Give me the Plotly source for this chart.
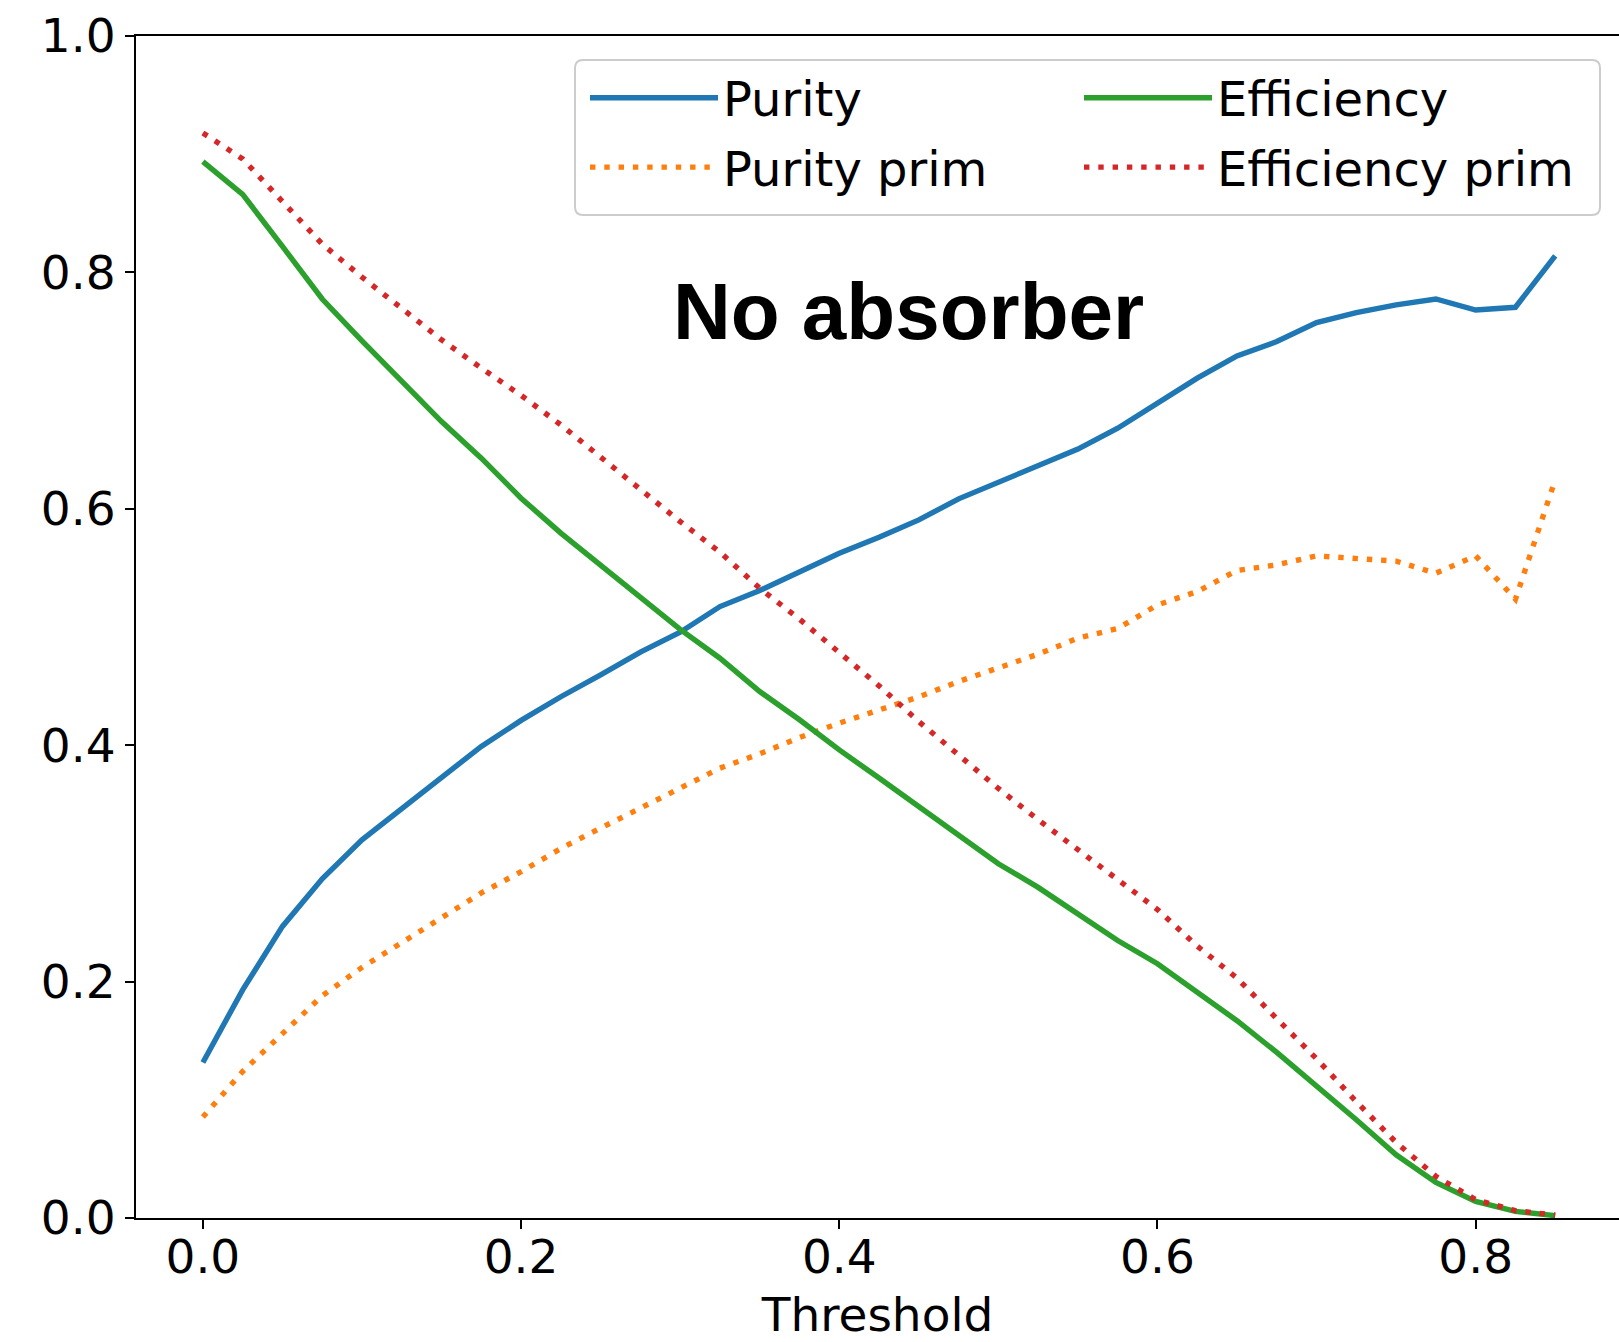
import plotly.graph_objects as go

threshold = [round(i * 0.025, 3) for i in range(35)]

purity = [0.1316, 0.193, 0.2467, 0.287, 0.32, 0.346, 0.372, 0.399, 0.421, 0.441,
          0.4595, 0.4787, 0.4956, 0.5173, 0.5309, 0.5464, 0.5624, 0.576, 0.5906, 0.6084,
          0.6222, 0.6357, 0.6505, 0.6682, 0.6899, 0.7105, 0.7293, 0.7415, 0.7575, 0.766,
          0.7725, 0.7775, 0.7682, 0.7705, 0.8139]
purity_prim = [0.0854, 0.124, 0.156, 0.188, 0.212, 0.233, 0.2537, 0.275, 0.293, 0.3126,
               0.3299, 0.347, 0.3637, 0.3806, 0.3927, 0.4065, 0.4187, 0.4299, 0.4409, 0.4539,
               0.4652, 0.477, 0.4906, 0.4987, 0.5187, 0.53, 0.5478, 0.5526, 0.5602, 0.5576,
               0.5557, 0.5455, 0.5602, 0.5235, 0.6245]
efficiency = [0.8937, 0.866, 0.822, 0.7775, 0.742, 0.708, 0.6738, 0.6428, 0.609, 0.5794,
              0.552, 0.5244, 0.498, 0.4736, 0.4454, 0.4215, 0.396, 0.3722, 0.3481, 0.3242,
              0.2997, 0.2797, 0.2574, 0.2348, 0.2151, 0.1908, 0.1669, 0.1401, 0.1119, 0.0831,
              0.0535, 0.0301, 0.014, 0.0056, 0.002]
efficiency_prim = [0.918, 0.896, 0.86, 0.824, 0.796, 0.77, 0.743, 0.719, 0.696, 0.671,
                   0.644, 0.6157, 0.5892, 0.5633, 0.5328, 0.5066, 0.4787, 0.4502, 0.42, 0.3913,
                   0.3634, 0.3369, 0.3115, 0.2856, 0.261, 0.23, 0.203, 0.1686, 0.1347, 0.0984,
                   0.064, 0.0352, 0.0155, 0.0062, 0.0025]

x_ticks = [0.0, 0.2, 0.4, 0.6, 0.8]
y_ticks = [0.0, 0.2, 0.4, 0.6, 0.8, 1.0]

W, H = 1619, 1342
ML, MR, MT, MB = 136, 0, 36, 124
PW, PH = W - ML - MR, H - MT - MB

LW = 5.4
DOT = "5.4px,8.9px"
FONT = "DejaVu Sans"


def px_to_paper(px, py):
    return (px - ML) / PW, (H - MB - py) / PH


fig = go.Figure()
fig.add_trace(go.Scatter(x=threshold, y=purity, mode="lines", name="Purity",
                         line=dict(color="#1f77b4", width=LW), legend="legend", legendgroup="a"))
fig.add_trace(go.Scatter(x=threshold, y=purity_prim, mode="lines", name="Purity prim",
                         line=dict(color="#ff7f0e", width=LW, dash=DOT), legend="legend", legendgroup="b"))
fig.add_trace(go.Scatter(x=threshold, y=efficiency, mode="lines", name="Efficiency",
                         line=dict(color="#2ca02c", width=LW), legend="legend2", legendgroup="c"))
fig.add_trace(go.Scatter(x=threshold, y=efficiency_prim, mode="lines", name="Efficiency prim",
                         line=dict(color="#d62728", width=LW, dash=DOT), legend="legend2", legendgroup="d"))

# legend frame (rounded box like matplotlib's legend patch)
bx0, by0 = px_to_paper(575, 60)
bx1, by1 = px_to_paper(1600, 215)
rx, ry = 8 / PW, 8 / PH
frame = (f"M{bx0 + rx},{by0} L{bx1 - rx},{by0} Q{bx1},{by0} {bx1},{by0 - ry} "
         f"L{bx1},{by1 + ry} Q{bx1},{by1} {bx1 - rx},{by1} "
         f"L{bx0 + rx},{by1} Q{bx0},{by1} {bx0},{by1 + ry} "
         f"L{bx0},{by0 - ry} Q{bx0},{by0} {bx0 + rx},{by0} Z")
fig.add_shape(type="path", path=frame, xref="paper", yref="paper",
              line=dict(color="#cccccc", width=2), fillcolor="rgba(255,255,255,0.8)", layer="above")

fig.add_annotation(x=0.2942, y=0.767, xref="x", yref="y", text="<b>No absorber</b>",
                   showarrow=False, xanchor="left", yanchor="middle",
                   font=dict(family="Liberation Sans", size=80, color="black"))

lx1, ly = px_to_paper(585, 60)
lx2, _ = px_to_paper(1079, 60)
leg_common = dict(orientation="v", yanchor="top", xanchor="left", y=ly,
                  bgcolor="rgba(0,0,0,0)", borderwidth=0,
                  font=dict(family=FONT, size=48, color="black"),
                  itemwidth=128, tracegroupgap=4, traceorder="grouped")

fig.update_layout(
    width=W, height=H,
    margin=dict(l=ML, r=MR, t=MT, b=MB),
    paper_bgcolor="white", plot_bgcolor="white",
    font=dict(family=FONT, size=47, color="black"),
    showlegend=True,
    legend=dict(x=lx1, **leg_common),
    legend2=dict(x=lx2, **leg_common),
    xaxis=dict(
        range=[-0.04205, 0.8901], tickvals=x_ticks, ticktext=[f"{v:.1f}" for v in x_ticks],
        showline=True, linecolor="black", linewidth=2, mirror=True,
        ticks="outside", ticklen=9, tickwidth=2, tickcolor="black",
        ticklabelstandoff=-12,
        showgrid=False, zeroline=False,
        title=dict(text="Threshold", font=dict(family=FONT, size=47), standoff=15),
    ),
    yaxis=dict(
        range=[0, 1], tickvals=y_ticks, ticktext=[f"{v:.1f}" for v in y_ticks],
        showline=True, linecolor="black", linewidth=2, mirror=False,
        ticks="outside", ticklen=9, tickwidth=2, tickcolor="black",
        showgrid=False, zeroline=False,
    ),
)

fig.write_html("out.html")
